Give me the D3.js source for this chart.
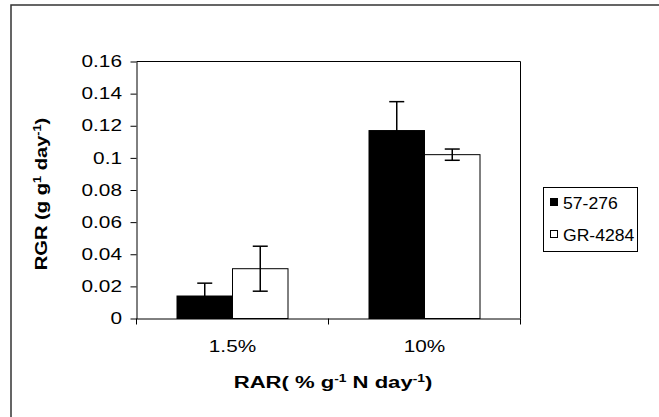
<!DOCTYPE html>
<html>
<head>
<meta charset="utf-8">
<script src="https://cdn.jsdelivr.net/npm/d3@7"></script>
<style>
  body { margin: 0; background: #fff; }
  text { font-family: "Liberation Sans", Arial, sans-serif; fill: #000; }
</style>
</head>
<body>
<svg id="chart" width="659" height="417"></svg>
<script>
// Relative growth rate by relative addition rate, two genotypes
const categories = ["1.5%", "10%"];
const seriesNames = ["57-276", "GR-4284"];
const meanA = [0.014, 0.117];   // 57-276
const meanB = [0.031, 0.102];   // GR-4284
const errA = [0.008, 0.018];
const errB = [0.014, 0.0035];
const yTickValues = [0, 0.02, 0.04, 0.06, 0.08, 0.1, 0.12, 0.14, 0.16];
const yTickLabels = ["0", "0.02", "0.04", "0.06", "0.08", "0.1", "0.12", "0.14", "0.16"];
const seriesFill = ["#000000", "#ffffff"];

const svg = d3.select("#chart");
const plot = { left: 136.5, right: 520.5, top: 61.5, bottom: 318.5 };
const wide = 1.3;   // horizontal widening applied to the label glyphs

// outer chart frame (only its top and left edges fall inside the view)
svg.append("rect")
  .attr("x", 11).attr("y", 5).attr("width", 800).attr("height", 600)
  .attr("fill", "none").attr("stroke", "#333").attr("stroke-width", 1.5);

const x = d3.scaleBand().domain(categories).range([plot.left, plot.right]);
const inner = d3.scaleBand().domain(seriesNames)
  .range([40.5, x.bandwidth() - 40.5]);
const y = d3.scaleLinear().domain([0, 0.16]).range([plot.bottom, plot.top]);

// plot area border (top and right)
svg.append("path")
  .attr("d", `M${plot.left},${plot.top}H${plot.right}V${plot.bottom}`)
  .attr("fill", "none").attr("stroke", "#000").attr("stroke-width", 1);

const rows = categories.map((c, i) => ({
  cat: c,
  values: [
    { name: seriesNames[0], v: meanA[i], e: errA[i], fill: seriesFill[0] },
    { name: seriesNames[1], v: meanB[i], e: errB[i], fill: seriesFill[1] }
  ]
}));

const groups = svg.selectAll("g.grp").data(rows).join("g")
  .attr("class", "grp")
  .attr("transform", d => `translate(${x(d.cat)},0)`);

groups.selectAll("rect").data(d => d.values).join("rect")
  .attr("x", d => inner(d.name))
  .attr("width", inner.bandwidth())
  .attr("y", d => y(d.v))
  .attr("height", d => y(0) - y(d.v))
  .attr("fill", d => d.fill)
  .attr("stroke", "#000").attr("stroke-width", 1);

// error bars
const capW = 7.5;
const cx = d => inner(d.name) + inner.bandwidth() / 2;
const eb = groups.selectAll("g.err").data(d => d.values).join("g")
  .attr("class", "err")
  .attr("stroke", "#000").attr("stroke-width", 1.5);
eb.append("line")
  .attr("x1", cx).attr("x2", cx)
  .attr("y1", d => y(d.v + d.e)).attr("y2", d => y(d.v - d.e));
eb.append("line")
  .attr("x1", d => cx(d) - capW).attr("x2", d => cx(d) + capW)
  .attr("y1", d => y(d.v + d.e)).attr("y2", d => y(d.v + d.e));
eb.append("line")
  .attr("x1", d => cx(d) - capW).attr("x2", d => cx(d) + capW)
  .attr("y1", d => y(d.v - d.e)).attr("y2", d => y(d.v - d.e));

// y axis
const yAxis = d3.axisLeft(y)
  .tickValues(yTickValues)
  .tickFormat((d, i) => yTickLabels[i])
  .tickSize(6).tickSizeOuter(0).tickPadding(8);
const gy = svg.append("g").attr("transform", `translate(${plot.left},0)`).call(yAxis);
gy.selectAll("text")
  .style("font-size", "16px")
  .attr("x", 0)
  .attr("transform", `translate(-14.5,0) scale(${wide},1)`);
gy.selectAll("line, path").attr("stroke", "#000");

// x axis: labels centred in bands, ticks on band edges
const xAxis = d3.axisBottom(x).tickSize(0).tickPadding(22).tickSizeOuter(0);
const gx = svg.append("g").attr("transform", `translate(0,${plot.bottom})`).call(xAxis);
gx.selectAll("text")
  .style("font-size", "16px")
  .attr("y", 0)
  .attr("transform", `translate(0,22) scale(${wide},1)`);
gx.select("path").attr("stroke", "#000");
const edges = [plot.left, ...categories.map(c => x(c) + x.bandwidth())];
gx.selectAll("line.edge").data(edges).join("line")
  .attr("class", "edge")
  .attr("x1", d => d).attr("x2", d => d)
  .attr("y1", 0).attr("y2", 6)
  .attr("stroke", "#000");

// axis titles with superscript units
function titled(sel, parts) {
  parts.forEach(p => {
    if (p.sup) sel.append("tspan").attr("dy", -6).style("font-size", "10px").text(p.t);
    else sel.append("tspan").attr("dy", p.back ? 6 : 0).text(p.t);
  });
}

const yTitle = svg.append("text")
  .attr("transform", `translate(47,${(plot.top + plot.bottom) / 2 + 4}) rotate(-90) scale(1.26,1)`)
  .attr("text-anchor", "middle")
  .style("font-size", "16px").style("font-weight", "bold");
titled(yTitle, [
  { t: "RGR (g g" }, { t: "1", sup: true }, { t: " day", back: true },
  { t: "-1", sup: true }, { t: ")", back: true }
]);

const xTitle = svg.append("text")
  .attr("transform", `translate(333,388) scale(1.38,1)`)
  .attr("text-anchor", "middle")
  .style("font-size", "16px").style("font-weight", "bold");
titled(xTitle, [
  { t: "RAR( % g" }, { t: "-1", sup: true }, { t: " N day", back: true },
  { t: "-1", sup: true }, { t: ")", back: true }
]);

// legend
const legend = svg.append("g");
legend.append("rect")
  .attr("x", 543.5).attr("y", 187.5).attr("width", 94).attr("height", 64)
  .attr("fill", "#fff").attr("stroke", "#000");
const li = legend.selectAll("g.item").data(seriesNames).join("g")
  .attr("class", "item")
  .attr("transform", (d, i) => `translate(550,${203 + i * 32})`);
li.append("rect")
  .attr("x", 0.5).attr("y", -4.5).attr("width", 7).attr("height", 7)
  .attr("fill", (d, i) => seriesFill[i]).attr("stroke", "#000");
li.append("text")
  .attr("transform", "translate(13,5.5) scale(1.1,1)")
  .style("font-size", "16px")
  .text(d => d);
</script>
</body>
</html>
